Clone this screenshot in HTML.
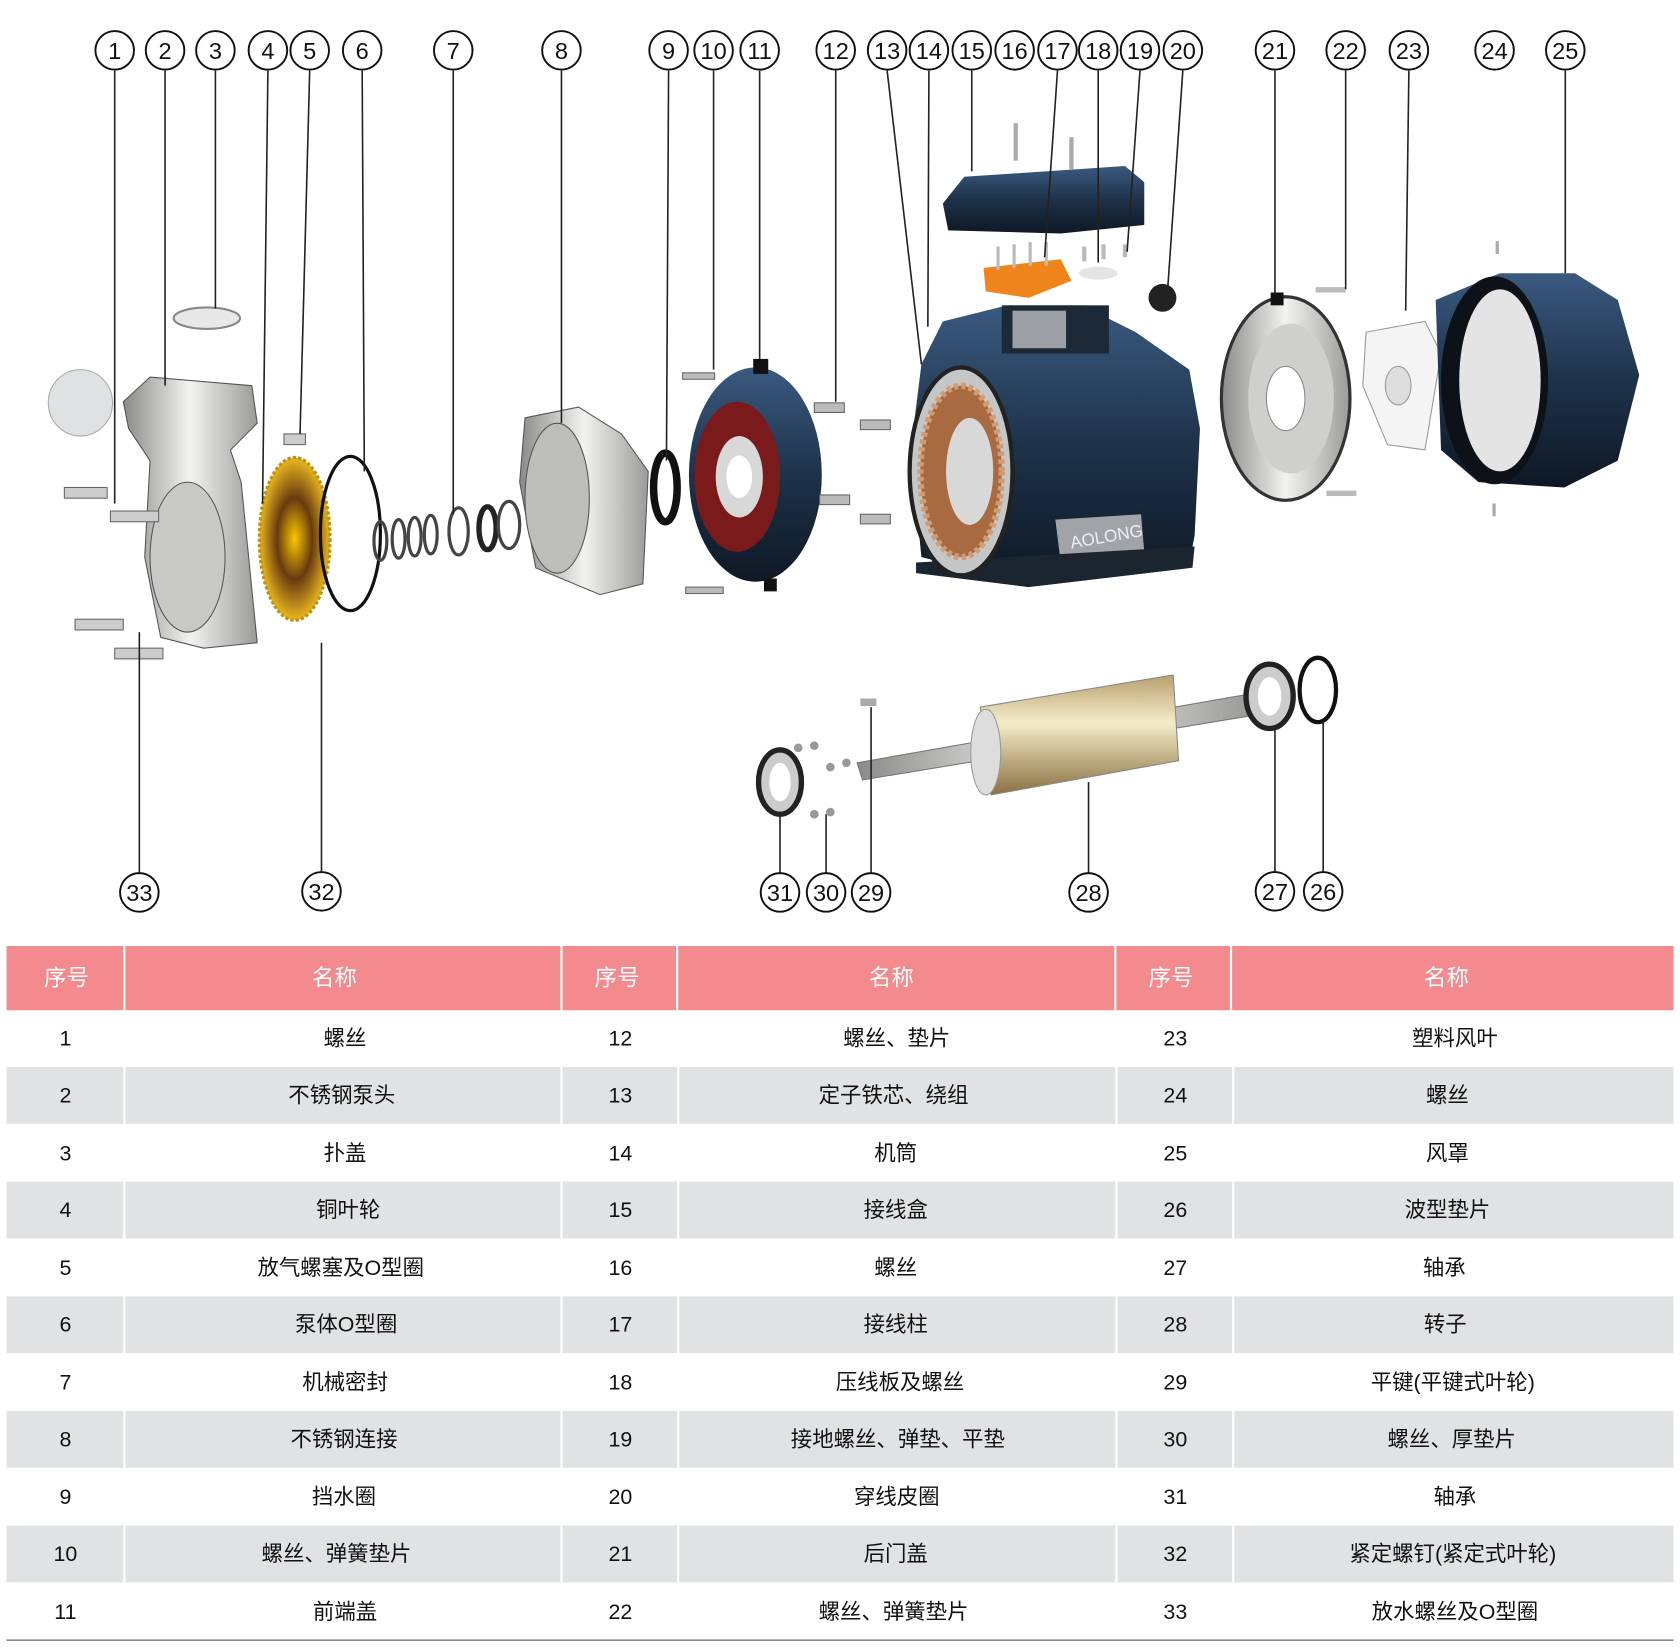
<!DOCTYPE html>
<html><head><meta charset="utf-8"><style>
html,body{margin:0;padding:0;background:#fff;}
svg{display:block;}
text{font-family:"Liberation Sans","Noto Sans CJK SC",sans-serif;}
</style></head><body>
<svg width="1680" height="1652" viewBox="0 0 1568 1542" xmlns="http://www.w3.org/2000/svg">
<defs>
<linearGradient id="blue" x1="0" y1="0" x2="0" y2="1"><stop offset="0" stop-color="#3a5a80"/><stop offset="0.5" stop-color="#1e324a"/><stop offset="1" stop-color="#0e1824"/></linearGradient>
<linearGradient id="silver" x1="0" y1="0" x2="1" y2="0"><stop offset="0" stop-color="#8a8a88"/><stop offset="0.5" stop-color="#f2f2f0"/><stop offset="1" stop-color="#9a9a98"/></linearGradient>
<linearGradient id="gold" x1="0" y1="0" x2="0" y2="1"><stop offset="0" stop-color="#b8a070"/><stop offset="0.4" stop-color="#f4ecc8"/><stop offset="1" stop-color="#8a7040"/></linearGradient>
<radialGradient id="imp"><stop offset="0" stop-color="#f8c800"/><stop offset="0.5" stop-color="#6a3a10"/><stop offset="1" stop-color="#e8b820"/></radialGradient>
</defs>

<!-- parts -->
<ellipse cx="75" cy="376" rx="30" ry="31" fill="#dfe1e2" stroke="#aaa"/>
<ellipse cx="193" cy="297" rx="31" ry="10" fill="#e8e8e8" stroke="#888" stroke-width="2"/>
<path d="M115 375 L140 352 L235 360 L240 395 L215 420 L225 450 L240 600 L190 605 L150 595 L135 520 L140 430 L120 400 Z" fill="url(#silver)" stroke="#555"/>
<ellipse cx="175" cy="520" rx="35" ry="70" fill="#c8c8c6" stroke="#555"/>
<g fill="#ccc" stroke="#666"><rect x="60" y="455" width="40" height="10"/><rect x="103" y="477" width="45" height="10"/><rect x="70" y="578" width="45" height="10"/><rect x="107" y="605" width="45" height="10"/><rect x="265" y="405" width="20" height="10"/></g>
<ellipse cx="275" cy="503" rx="33" ry="76" fill="url(#imp)" stroke="#c09010" stroke-width="3" stroke-dasharray="3 2"/>
<ellipse cx="327" cy="498" rx="28" ry="72" fill="none" stroke="#111" stroke-width="3"/>
<g fill="none" stroke="#444" stroke-width="3"><ellipse cx="355" cy="505" rx="6" ry="18"/><ellipse cx="372" cy="503" rx="6" ry="18"/><ellipse cx="387" cy="501" rx="6" ry="18"/><ellipse cx="402" cy="499" rx="6" ry="18"/><ellipse cx="428" cy="496" rx="9" ry="22"/><ellipse cx="455" cy="493" rx="8" ry="20" stroke-width="5" stroke="#222"/><ellipse cx="475" cy="490" rx="10" ry="22"/></g>
<path d="M490 390 L540 380 L580 405 L605 440 L600 545 L560 555 L500 530 L485 450 Z" fill="url(#silver)" stroke="#555"/>
<ellipse cx="520" cy="465" rx="30" ry="70" fill="#bdbdbb" stroke="#555"/>
<ellipse cx="621" cy="455" rx="11" ry="32" fill="none" stroke="#111" stroke-width="7"/>
<ellipse cx="705" cy="443" rx="62" ry="100" fill="url(#blue)"/>
<ellipse cx="688" cy="445" rx="40" ry="70" fill="#7a1a1a"/>
<ellipse cx="690" cy="445" rx="22" ry="38" fill="#d8d8d8"/>
<ellipse cx="690" cy="445" rx="12" ry="20" fill="#fff"/>
<rect x="703" y="335" width="14" height="14" fill="#111"/><rect x="713" y="540" width="12" height="12" fill="#111"/>
<g fill="#bbb" stroke="#666"><rect x="637" y="348" width="30" height="6"/><rect x="640" y="548" width="35" height="6"/><rect x="760" y="376" width="28" height="9"/><rect x="803" y="392" width="28" height="9"/><rect x="765" y="462" width="28" height="9"/><rect x="803" y="480" width="28" height="9"/></g>
<!-- motor -->
<path d="M880 300 L940 285 L1010 285 L1060 310 L1110 345 L1120 400 L1115 500 L1110 525 L960 545 L860 520 L850 420 L860 340 Z" fill="url(#blue)"/>
<rect x="935" y="285" width="100" height="45" fill="#1c2a38"/><rect x="945" y="290" width="50" height="35" fill="#9aa0a6"/>
<path d="M985 485 L1065 480 L1068 515 L990 525 Z" fill="#a0a4a8"/>
<text x="1000" y="512" font-size="16" fill="#eee" transform="rotate(-10 1000 512)">AOLONG</text>
<path d="M855 525 L1115 510 L1113 530 L960 548 L855 535 Z" fill="#1a2530"/>
<ellipse cx="897" cy="440" rx="48" ry="97" fill="#c4c6c8" stroke="#222" stroke-width="4"/>
<ellipse cx="897" cy="440" rx="38" ry="80" fill="#a86a40" stroke="#d49a70" stroke-width="6" stroke-dasharray="4 3"/>
<ellipse cx="905" cy="440" rx="22" ry="50" fill="#d8d8d8"/>
<path d="M885 215 L880 190 L900 165 L1050 155 L1068 170 L1068 210 L990 218 Z" fill="url(#blue)"/>
<g fill="#aaa"><rect x="946" y="115" width="4" height="35"/><rect x="998" y="128" width="4" height="30"/><rect x="1396" y="225" width="3" height="12"/><rect x="1393" y="470" width="3" height="12"/></g>
<path d="M918 250 L990 242 L1000 262 L960 278 L920 272 Z" fill="#f0841c"/>
<g fill="#bbb"><rect x="930" y="230" width="3" height="22"/><rect x="945" y="228" width="3" height="22"/><rect x="960" y="226" width="3" height="22"/><rect x="975" y="226" width="3" height="22"/><rect x="1010" y="230" width="4" height="14"/><rect x="1028" y="228" width="4" height="14"/><rect x="1048" y="228" width="4" height="12"/></g>
<ellipse cx="1025" cy="255" rx="18" ry="6" fill="#e4e4e4"/>
<circle cx="1085" cy="278" r="13" fill="#222"/>
<!-- rear -->
<ellipse cx="1200" cy="372" rx="60" ry="95" fill="url(#silver)" stroke="#333" stroke-width="3"/>
<ellipse cx="1205" cy="372" rx="40" ry="70" fill="#cfcfcd"/>
<ellipse cx="1200" cy="372" rx="18" ry="30" fill="#fff" stroke="#888"/>
<rect x="1186" y="273" width="12" height="12" fill="#111"/>
<g fill="#bbb"><rect x="1228" y="268" width="28" height="5"/><rect x="1238" y="458" width="28" height="5"/></g>
<path d="M1275 310 L1330 300 L1345 330 L1330 420 L1295 415 L1272 360 Z" fill="#f4f4f4" stroke="#999"/>
<ellipse cx="1305" cy="360" rx="12" ry="18" fill="#ddd" stroke="#999"/>
<path d="M1340 280 L1400 255 L1470 255 L1510 280 L1530 350 L1510 430 L1460 455 L1380 450 L1345 420 Z" fill="url(#blue)"/>
<ellipse cx="1395" cy="355" rx="50" ry="97" fill="#0c1218"/>
<ellipse cx="1400" cy="355" rx="38" ry="85" fill="#e4e4e4"/>
<!-- rotor -->
<path d="M800 712 L1165 648 L1168 668 L805 728 Z" fill="url(#silver)" stroke="#777"/>
<path d="M915 660 L1095 630 L1100 710 L925 742 Z" fill="url(#gold)" stroke="#888"/>
<ellipse cx="920" cy="702" rx="14" ry="40" fill="#ddd" stroke="#999"/>
<rect x="803" y="652" width="15" height="7" fill="#aaa"/>
<ellipse cx="728" cy="730" rx="20" ry="30" fill="#ccc" stroke="#222" stroke-width="5"/><ellipse cx="728" cy="730" rx="10" ry="18" fill="#fff"/>
<ellipse cx="1185" cy="650" rx="22" ry="30" fill="#ccc" stroke="#222" stroke-width="5"/><ellipse cx="1185" cy="650" rx="11" ry="18" fill="#fff"/>
<ellipse cx="1230" cy="644" rx="17" ry="30" fill="none" stroke="#111" stroke-width="4"/>
<g fill="#999"><circle cx="745" cy="698" r="4"/><circle cx="760" cy="696" r="4"/><circle cx="775" cy="716" r="4"/><circle cx="790" cy="712" r="4"/><circle cx="760" cy="760" r="4"/><circle cx="775" cy="758" r="4"/></g>

<!-- leaders -->
<g stroke="#222" stroke-width="1.5" fill="none">
<line x1="107" y1="66" x2="107" y2="470"/><line x1="154" y1="66" x2="154" y2="360"/><line x1="201" y1="66" x2="201" y2="288"/><line x1="250" y1="66" x2="245" y2="470"/><line x1="289" y1="66" x2="280" y2="405"/><line x1="338" y1="66" x2="340" y2="440"/><line x1="423" y1="66" x2="423" y2="480"/><line x1="524" y1="66" x2="524" y2="395"/><line x1="624" y1="66" x2="622" y2="430"/><line x1="666" y1="66" x2="666" y2="345"/><line x1="709" y1="66" x2="709" y2="335"/><line x1="780" y1="66" x2="780" y2="375"/><line x1="828" y1="66" x2="860" y2="340"/><line x1="867" y1="66" x2="866" y2="305"/><line x1="907" y1="66" x2="907" y2="160"/><line x1="987" y1="66" x2="975" y2="240"/><line x1="1025" y1="66" x2="1025" y2="245"/><line x1="1064" y1="66" x2="1052" y2="235"/><line x1="1104" y1="66" x2="1090" y2="268"/><line x1="1190" y1="66" x2="1190" y2="275"/><line x1="1256" y1="66" x2="1256" y2="270"/><line x1="1315" y1="66" x2="1312" y2="290"/><line x1="1461" y1="66" x2="1461" y2="255"/>
<line x1="130" y1="815" x2="130" y2="590"/><line x1="300" y1="814" x2="300" y2="600"/><line x1="728" y1="815" x2="728" y2="760"/><line x1="771" y1="815" x2="771" y2="760"/><line x1="813" y1="815" x2="813" y2="660"/><line x1="1016" y1="815" x2="1016" y2="730"/><line x1="1190" y1="815" x2="1190" y2="680"/><line x1="1235" y1="815" x2="1235" y2="674"/>
</g>
<!-- circles -->
<g font-size="22" text-anchor="middle" fill="#111">
<g stroke="#111" stroke-width="1.8" fill="#fff">
<circle cx="107" cy="47" r="18"/><circle cx="154" cy="47" r="18"/><circle cx="201" cy="47" r="18"/><circle cx="250" cy="47" r="18"/><circle cx="289" cy="47" r="18"/><circle cx="338" cy="47" r="18"/><circle cx="423" cy="47" r="18"/><circle cx="524" cy="47" r="18"/><circle cx="624" cy="47" r="18"/><circle cx="666" cy="47" r="18"/><circle cx="709" cy="47" r="18"/><circle cx="780" cy="47" r="18"/><circle cx="828" cy="47" r="18"/><circle cx="867" cy="47" r="18"/><circle cx="907" cy="47" r="18"/><circle cx="947" cy="47" r="18"/><circle cx="987" cy="47" r="18"/><circle cx="1025" cy="47" r="18"/><circle cx="1064" cy="47" r="18"/><circle cx="1104" cy="47" r="18"/><circle cx="1190" cy="47" r="18"/><circle cx="1256" cy="47" r="18"/><circle cx="1315" cy="47" r="18"/><circle cx="1395" cy="47" r="18"/><circle cx="1461" cy="47" r="18"/>
<circle cx="130" cy="833" r="18"/><circle cx="300" cy="832" r="18"/><circle cx="728" cy="833" r="18"/><circle cx="771" cy="833" r="18"/><circle cx="813" cy="833" r="18"/><circle cx="1016" cy="833" r="18"/><circle cx="1190" cy="832" r="18"/><circle cx="1235" cy="832" r="18"/>
</g>
<text x="107" y="55">1</text><text x="154" y="55">2</text><text x="201" y="55">3</text><text x="250" y="55">4</text><text x="289" y="55">5</text><text x="338" y="55">6</text><text x="423" y="55">7</text><text x="524" y="55">8</text><text x="624" y="55">9</text><text x="666" y="55">10</text><text x="709" y="55">11</text><text x="780" y="55">12</text><text x="828" y="55">13</text><text x="867" y="55">14</text><text x="907" y="55">15</text><text x="947" y="55">16</text><text x="987" y="55">17</text><text x="1025" y="55">18</text><text x="1064" y="55">19</text><text x="1104" y="55">20</text><text x="1190" y="55">21</text><text x="1256" y="55">22</text><text x="1315" y="55">23</text><text x="1395" y="55">24</text><text x="1461" y="55">25</text>
<text x="130" y="841">33</text><text x="300" y="840">32</text><text x="728" y="841">31</text><text x="771" y="841">30</text><text x="813" y="841">29</text><text x="1016" y="841">28</text><text x="1190" y="840">27</text><text x="1235" y="840">26</text>
</g>

<!-- table -->
<rect x="6" y="883" width="1556" height="60" fill="#f28a8e"/>
<g stroke="#fff" stroke-width="2"><line x1="116" y1="883" x2="116" y2="943"/><line x1="524" y1="883" x2="524" y2="943"/><line x1="632" y1="883" x2="632" y2="943"/><line x1="1041" y1="883" x2="1041" y2="943"/><line x1="1149" y1="883" x2="1149" y2="943"/></g>
<g fill="#e0e2e3">
<rect x="6" y="996" width="1556" height="53"/><rect x="6" y="1103" width="1556" height="53"/><rect x="6" y="1210" width="1556" height="53"/><rect x="6" y="1317" width="1556" height="53"/><rect x="6" y="1424" width="1556" height="53"/>
</g>
<g stroke="#fff" stroke-width="2"><line x1="116" y1="943" x2="116" y2="1530"/><line x1="524" y1="943" x2="524" y2="1530"/><line x1="633" y1="943" x2="633" y2="1530"/><line x1="1042" y1="943" x2="1042" y2="1530"/><line x1="1151" y1="943" x2="1151" y2="1530"/></g>
<line x1="6" y1="1531" x2="1562" y2="1531" stroke="#888" stroke-width="1.5"/>
<g font-size="21" text-anchor="middle" fill="#fff">
<text x="62" y="920">序号</text><text x="312" y="920">名称</text><text x="576" y="920">序号</text><text x="832" y="920">名称</text><text x="1093" y="920">序号</text><text x="1350" y="920">名称</text>
</g>
<g font-size="20" text-anchor="middle" fill="#111">
<text x="61" y="976">1</text><text x="322" y="976">螺丝</text><text x="579" y="976">12</text><text x="837" y="976">螺丝、垫片</text><text x="1097" y="976">23</text><text x="1358" y="976">塑料风叶</text>
<text x="61" y="1029">2</text><text x="319" y="1029">不锈钢泵头</text><text x="579" y="1029">13</text><text x="834" y="1029">定子铁芯、绕组</text><text x="1097" y="1029">24</text><text x="1351" y="1029">螺丝</text>
<text x="61" y="1083">3</text><text x="322" y="1083">扑盖</text><text x="579" y="1083">14</text><text x="836" y="1083">机筒</text><text x="1097" y="1083">25</text><text x="1351" y="1083">风罩</text>
<text x="61" y="1136">4</text><text x="325" y="1136">铜叶轮</text><text x="579" y="1136">15</text><text x="836" y="1136">接线盒</text><text x="1097" y="1136">26</text><text x="1351" y="1136">波型垫片</text>
<text x="61" y="1190">5</text><text x="318" y="1190">放气螺塞及O型圈</text><text x="579" y="1190">16</text><text x="836" y="1190">螺丝</text><text x="1097" y="1190">27</text><text x="1348" y="1190">轴承</text>
<text x="61" y="1243">6</text><text x="323" y="1243">泵体O型圈</text><text x="579" y="1243">17</text><text x="836" y="1243">接线柱</text><text x="1097" y="1243">28</text><text x="1349" y="1243">转子</text>
<text x="61" y="1297">7</text><text x="322" y="1297">机械密封</text><text x="579" y="1297">18</text><text x="840" y="1297">压线板及螺丝</text><text x="1097" y="1297">29</text><text x="1356" y="1297">平键(平键式叶轮)</text>
<text x="61" y="1350">8</text><text x="321" y="1350">不锈钢连接</text><text x="579" y="1350">19</text><text x="838" y="1350">接地螺丝、弹垫、平垫</text><text x="1097" y="1350">30</text><text x="1355" y="1350">螺丝、厚垫片</text>
<text x="61" y="1404">9</text><text x="321" y="1404">挡水圈</text><text x="579" y="1404">20</text><text x="837" y="1404">穿线皮圈</text><text x="1097" y="1404">31</text><text x="1358" y="1404">轴承</text>
<text x="61" y="1457">10</text><text x="314" y="1457">螺丝、弹簧垫片</text><text x="579" y="1457">21</text><text x="836" y="1457">后门盖</text><text x="1097" y="1457">32</text><text x="1356" y="1457">紧定螺钉(紧定式叶轮)</text>
<text x="61" y="1511">11</text><text x="322" y="1511">前端盖</text><text x="579" y="1511">22</text><text x="834" y="1511">螺丝、弹簧垫片</text><text x="1097" y="1511">33</text><text x="1358" y="1511">放水螺丝及O型圈</text>
</g>
</svg>
</body></html>
